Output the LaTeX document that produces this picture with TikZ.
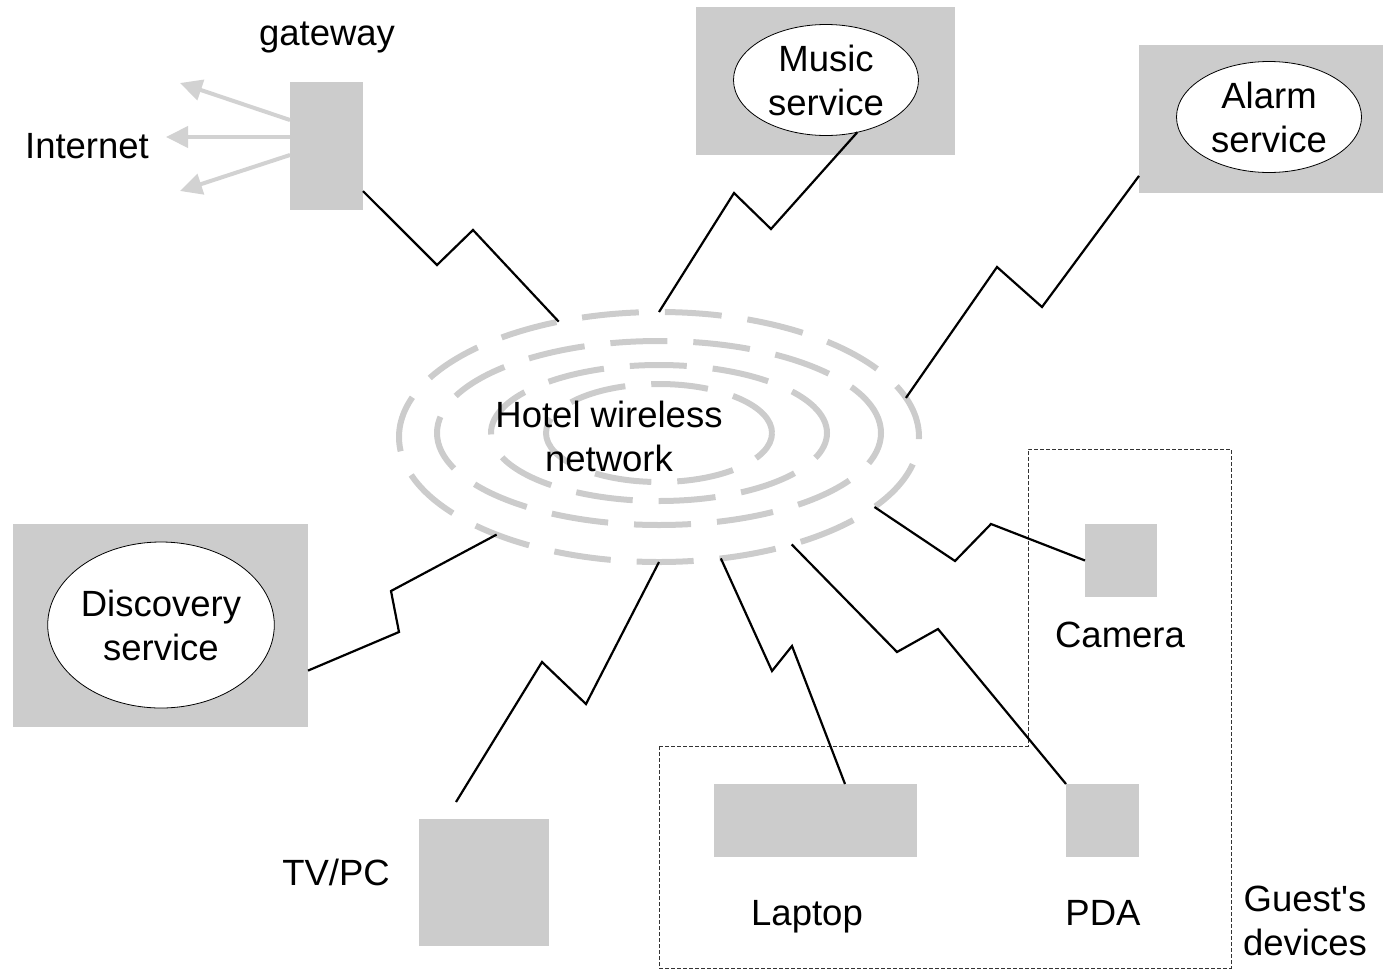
\documentclass[tikz,border=0pt]{standalone}
\usepackage{fontspec}
\setmainfont{Liberation Sans}
\usetikzlibrary{positioning,calc,arrows.meta,shapes.geometric}
\definecolor{boxgray}{HTML}{CCCCCC}
\definecolor{linkgray}{HTML}{D2D2D2}

\begin{document}
\begin{tikzpicture}[x=1pt,y=-1pt,
  every node/.style={font=\fontsize{36.5}{44}\selectfont,inner sep=0pt,outer sep=0pt},
  devbox/.style={fill=boxgray},
  svcell/.style={ellipse,draw,fill=white,line width=0.8pt,align=center},
  txt/.style={anchor=base},
  radio/.style={line width=2.2pt,line join=miter},
  wave/.style={draw=boxgray,line width=6pt,dash pattern=on 57pt off 26pt},
  uplink/.style={draw=linkgray,line width=4pt,-{Triangle[length=22pt,width=21pt]}}]
  \useasboundingbox (0,0) rectangle (1383,969);

  % hotel wireless network
  \node[ellipse,wave,minimum width=520pt,minimum height=250pt] (net) at (659,437) {};
  \foreach \rx/\ry in {222/92,168/68,113/49}
    \draw[wave] (659,433) ellipse [x radius=\rx pt,y radius=\ry pt];
  \node[align=center] (netlab) at (609,436) {Hotel wireless\\network};

  % gateway
  \node[devbox,minimum width=73pt,minimum height=128pt] (gw) at (326.5,146) {};
  \node[txt] (gwlab) at (327,45) {gateway};
  \node[txt] (inet) at (87,158) {Internet};
  \foreach \i/\sy/\tx/\ty in {1/120/180/83,2/137/166/137,3/155/180/191}{
    \coordinate (up\i) at (\tx,\ty);
    \draw[uplink] (gw.west |- 0,\sy) -- (up\i);
  }

  % services
  \node[devbox,minimum width=259pt,minimum height=148pt] (musbox) at (825.5,81) {};
  \node[svcell,minimum width=185pt,minimum height=111pt] (mus) at (826,80) {Music\\service};
  \node[devbox,minimum width=244pt,minimum height=148pt] (almbox) at (1261,119) {};
  \node[svcell,minimum width=185pt,minimum height=111pt] (alm) at (1269,117) {Alarm\\service};
  \node[devbox,minimum width=295pt,minimum height=203pt] (discbox) at (160.5,625.5) {};
  \node[svcell,minimum width=222pt,minimum height=166pt] (disc) at (161,625) {Discovery\\service};

  % devices
  \node[devbox,minimum width=130pt,minimum height=127pt] (tv) at (484,882.5) {};
  \node[txt] (tvlab) at (336,885) {TV/PC};
  \node[devbox,minimum width=72pt,minimum height=73pt] (cam) at (1121,560.5) {};
  \node[txt] (camlab) at (1120,647) {Camera};
  \node[devbox,minimum width=203pt,minimum height=73pt] (lap) at (815.5,820.5) {};
  \node[txt] (laplab) at (807,925) {Laptop};
  \node[devbox,minimum width=73pt,minimum height=73pt] (pda) at (1102.5,820.5) {};
  \node[txt] (pdalab) at (1103,925) {PDA};
  \node[align=center] (guest) at (1305,921) {Guest\textquotesingle s\\devices};
  \draw[black!80,line width=1pt,dash pattern=on 4pt off 2pt]
    (659,746) -- (1028,746) -- (1028,449) -- (1231,449) -- (1231,968) -- (659,968) -- cycle;

  % radio links
  \coordinate (tvend) at ($(tv.north west)+(37,-17)$);
  \draw[radio] (gw.-51.6) -- (437,265) -- (473,230) -- (net.131.6);
  \draw[radio] (mus.-59.2) -- (771,229) -- (734,193) -- (net.90);
  \draw[radio] (almbox.-155) -- (1042,307) -- (997,267) -- (net.9.6);
  \draw[radio] (discbox.-17.5) -- (399,632) -- (391,591) -- (net.-149);
  \draw[radio] (tvend) -- (542,662) -- (586,704) -- (net.-90);
  \draw[radio] ($(lap.north)+(29.5,0)$) -- (792,646) -- (772,671) -- (net.-63.8);
  \draw[radio] (pda.north west) -- (938,629) -- (897,652) -- (net.-39.2);
  \draw[radio] (cam.west) -- (991,524) -- (955,561) -- (net.-18.6);
\end{tikzpicture}
\end{document}
